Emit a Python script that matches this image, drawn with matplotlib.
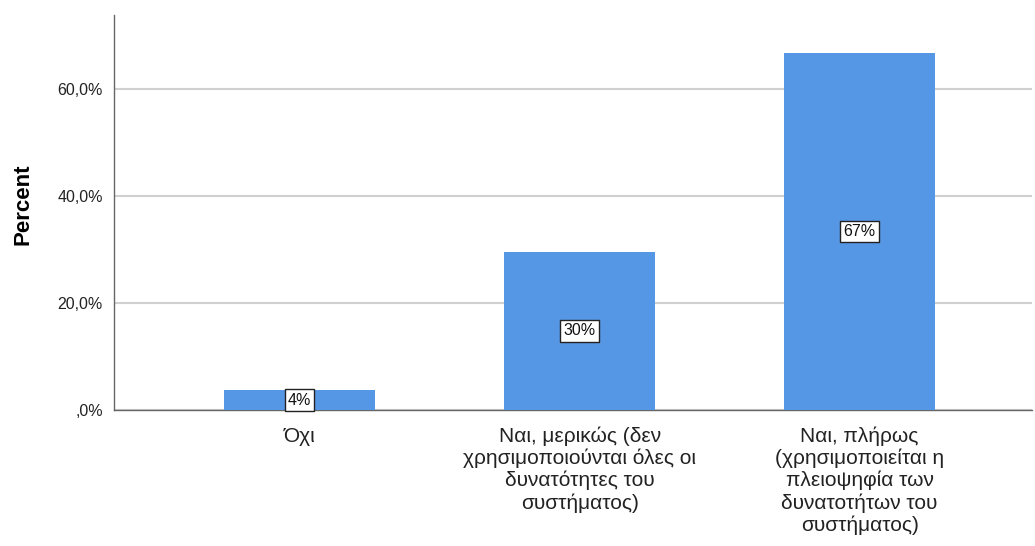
import numpy as np
from matplotlib import pyplot as plt

categories = ['Όχι',
              'Ναι, μερικώς (δεν\nχρησιμοποιούνται όλες οι\nδυνατότητες του\nσυστήματος)',
              'Ναι, πλήρως\n(χρησιμοποιείται η\nπλειοψηφία των\nδυνατοτήτων του\nσυστήματος)']
percent = [3.7, 29.6, 66.7]
labels = ['4%', '30%', '67%']

plt.rcParams['font.family'] = ['Liberation Sans', 'DejaVu Sans']

fig = plt.figure(figsize=(10.35, 5.46), dpi=100)
ax = fig.add_axes([0.110, 0.249, 0.887, 0.7235])

x = np.arange(len(categories))
ax.bar(x, percent, width=0.54, color='#5596e5', zorder=3)
for xi, v, lab in zip(x, percent, labels):
    ax.text(xi, v / 2, lab, ha='center', va='center', fontsize=11.5, zorder=4,
            color='#111111',
            bbox=dict(boxstyle='square,pad=0.2', fc='white', ec='#222222', lw=1))

ax.set_xlim(-0.663, 2.615)
ax.set_ylim(0, 73.8)
ax.set_yticks([0, 20, 40, 60])
ax.set_yticklabels([',0%', '20,0%', '40,0%', '60,0%'], fontsize=11.5, color='#222222')
ax.set_xticks(x)
ax.set_xticklabels(categories, fontsize=15, color='#222222', linespacing=1.17)
ax.tick_params(length=0, pad=8)
ax.tick_params(axis='x', pad=12)
ax.set_ylabel('Percent', fontsize=16, fontweight='bold')
ax.yaxis.set_label_coords(-0.088, 0.52)

ax.grid(axis='y', color='#d0d0d0', lw=1.5, zorder=0)
for s in ['top', 'right']:
    ax.spines[s].set_visible(False)
for s in ['left', 'bottom']:
    ax.spines[s].set_color('#666666')
    ax.spines[s].set_linewidth(1)

fig.savefig('out.png', dpi=100)
